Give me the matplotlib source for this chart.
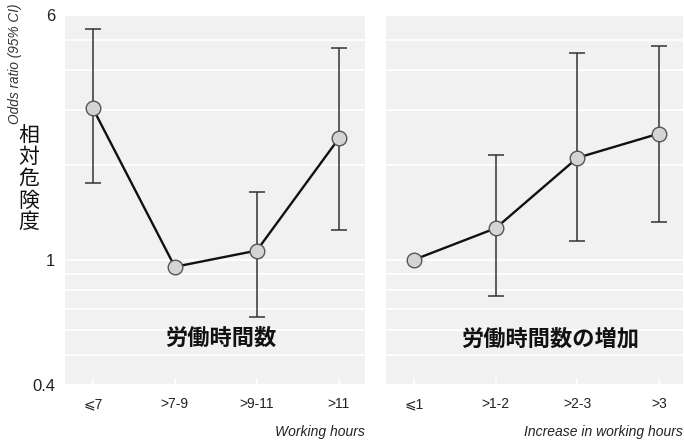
import matplotlib.pyplot as plt
import numpy as np

# left panel: working hours
hours_labels = ['⩽7', '>7-9', '>9-11', '>11']
hours_or = [3.03, 0.95, 1.07, 2.43]
hours_lo = [1.75, np.nan, 0.656, 1.24]
hours_hi = [5.40, np.nan, 1.64, 4.72]

# right panel: increase in working hours
incr_labels = ['⩽1', '>1-2', '>2-3', '>3']
incr_or = [1.0, 1.26, 2.11, 2.52]
incr_lo = [np.nan, 0.768, 1.15, 1.32]
incr_hi = [np.nan, 2.15, 4.55, 4.78]

W, H = 684, 441
fig = plt.figure(figsize=(W / 100, H / 100), dpi=100)
latin = ['Liberation Sans', 'DejaVu Sans']
jp = ['Noto Sans CJK JP', 'DejaVu Sans']

ax1 = fig.add_axes([65 / W, 1 - 385 / H, 300 / W, 370 / H])
ax2 = fig.add_axes([386 / W, 1 - 385 / H, 297 / W, 370 / H])


def panel(ax, labels, vals, lo, hi, xlabel, title, show_y):
    x = np.arange(len(labels))
    vals = np.array(vals)
    lo = np.array(lo)
    hi = np.array(hi)
    ax.set_facecolor('#f1f1f1')
    ax.set_yscale('log')
    ax.set_ylim(0.4, 6)
    if show_y:
        ax.set_xlim(-0.34, 3.32)
    else:
        ax.set_xlim(-0.34, 3.29)
    ax.set_yticks([0.4, 1, 6])
    ax.set_yticks([0.5, 0.6, 0.7, 0.8, 0.9, 2, 3, 4, 5], minor=True)
    ax.yaxis.set_minor_formatter(plt.NullFormatter())
    ax.grid(True, axis='y', which='both', color='white', lw=1.3)
    ax.set_axisbelow(True)
    for s in ax.spines.values():
        s.set_visible(False)
    ax.tick_params(axis='y', which='both', length=0, pad=7, labelsize=12,
                   labelcolor='#222222')
    if show_y:
        ax.set_yticklabels(['0.4', '1', '6'], family=latin)
    else:
        ax.set_yticklabels([])
    ax.set_xticks(x)
    ax.set_xticklabels(labels, family=latin, fontsize=10, color='#222222')
    ax.tick_params(axis='x', direction='in', length=5, width=1.2, color='white', pad=9)
    ok = ~np.isnan(lo)
    ax.errorbar(x[ok], vals[ok], yerr=[vals[ok] - lo[ok], hi[ok] - vals[ok]],
                fmt='none', ecolor='#333333', elinewidth=1.1, capsize=5.5,
                capthick=1.1, zorder=2)
    ax.plot(x, vals, color='#111111', lw=1.7, marker='o', ms=10.5,
            mfc='#d4d4d4', mec='#555555', mew=1.0, zorder=3)
    ax.set_xlabel(xlabel, loc='right', style='italic', family=latin,
                  fontsize=10, color='#222222', labelpad=10)
    ax.text(0.52 if show_y else 0.552, 0.125, title, transform=ax.transAxes,
            ha='center', va='center', family=jp, fontsize=16, fontweight='bold',
            color='#111111')


panel(ax1, hours_labels, hours_or, hours_lo, hours_hi,
      'Working hours', '労働時間数', True)
panel(ax2, incr_labels, incr_or, incr_lo, incr_hi,
      'Increase in working hours', '労働時間数の増加', False)

fig.text(15 / W, 1 - 3 / H, 'Odds ratio (95% CI)', rotation=90, ha='center',
         va='top', style='italic', family=latin, fontsize=9.8, color='#333333')
fig.text(29 / W, 1 - 179 / H, '\n'.join('相対危険度'), ha='center', va='center',
         family=jp, fontsize=15, linespacing=0.98, color='#111111')

fig.savefig('out.png', dpi=100)
